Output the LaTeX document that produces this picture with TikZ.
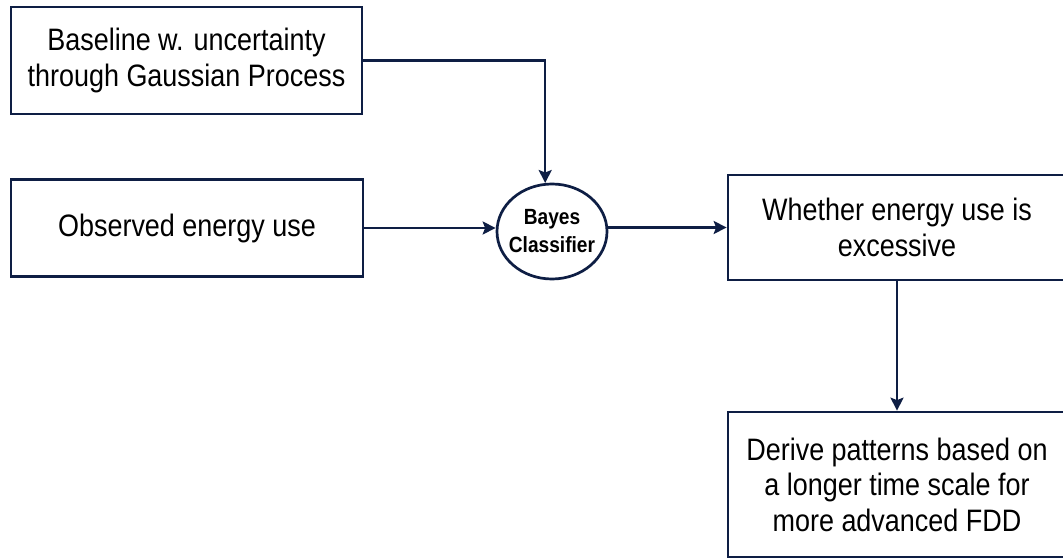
\documentclass[tikz,border=0pt]{standalone}
\usepackage{fontspec}
\setmainfont[FakeStretch=0.87]{Liberation Sans}
\usetikzlibrary{shapes.geometric,arrows.meta}
\definecolor{navy}{RGB}{14,30,68}
\tikzset{
  x=1pt, y=-1pt,
  box/.style={draw=navy, line width=2.7pt, fill=white, inner sep=0pt,
    align=center, font=\fontsize{31}{35.5}\selectfont},
  decider/.style={ellipse, draw=navy, line width=2.7pt, fill=white, inner sep=-10pt,
    align=center, font=\fontsize{22}{28}\selectfont\bfseries},
  flow/.style={draw=navy, line width=2.3pt,
    -{Stealth[length=13pt,width=13pt,inset=2.5pt]}}
}
\begin{document}
\begin{tikzpicture}
  \useasboundingbox (0,0) rectangle (1063,559);
  \fill[white] (0,0) rectangle (1063,559);
  \clip (0,0) rectangle (1063,559);

  % input boxes
  \node[box, minimum width=351pt, minimum height=107pt] (base) at (186.5,60.5)
    {Baseline w. uncertainty\\through Gaussian Process};
  \node[box, minimum width=352pt, minimum height=97pt] (obs) at (187,228)
    {Observed energy use};

  % classifier
  \node[decider, minimum width=110pt, minimum height=95pt] (bayes) at (552,231.5)
    {Bayes\\Classifier};

  % outputs
  \node[box, minimum width=338pt, minimum height=105pt] (excess) at (897,227.5)
    {Whether energy use is\\excessive};
  \node[box, minimum width=338pt, minimum height=145pt] (derive) at (897,484.5)
    {Derive patterns based on\\a longer time scale for\\more advanced FDD};

  % connectors
  \draw[flow] (base.east) -| (bayes.98);
  \draw[flow] (obs.east) -- (obs.east -| bayes.west);
  \draw[flow] (excess.west -| bayes.east) -- (excess.west);
  \draw[flow] (excess.south) -- (derive.north);
\end{tikzpicture}
\end{document}
